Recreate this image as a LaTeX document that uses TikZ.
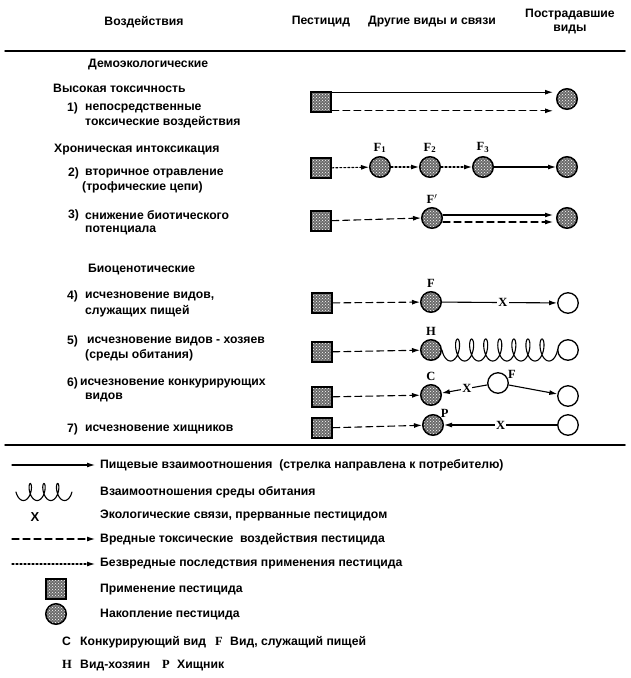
\documentclass[tikz,border=0pt]{standalone}
\usepackage{fontspec}
\setmainfont{Liberation Sans}
\newfontfamily\lblfont{Liberation Serif}
\usetikzlibrary{arrows.meta,patterns,calc}

\tikzset{
    txt/.style={anchor=west, inner sep=0pt, font=\bfseries\fontsize{12.2}{15}\selectfont},
    head/.style={inner sep=0pt, align=center, font=\bfseries\fontsize{12.2}{14}\selectfont},
    lbl/.style={inner sep=0pt, font=\lblfont\bfseries\fontsize{12.5}{12.5}\selectfont},
    pest/.style={draw, line width=1.6pt, minimum size=20pt, inner sep=0pt, preaction={fill=black!58}, pattern=crosshatch dots, pattern color=white},
    nakop/.style={circle, draw, line width=1.5pt, minimum size=20.5pt, inner sep=0pt, preaction={fill=black!58}, pattern=crosshatch dots, pattern color=white},
    vid/.style={circle, draw, line width=1.3pt, minimum size=20.5pt, inner sep=0pt, fill=white},
    food/.style={line width=1.1pt, -{Latex[length=8pt,width=5pt]}},
    toxic/.style={food, dash pattern=on 7pt off 4pt},
    harmless/.style={food, dash pattern=on 2pt off 2pt},
    habitat/.style={line width=1.1pt, smooth, samples=400, variable=\t},
    cut/.style={lbl, fill=white, inner sep=1pt}
}

\begin{document}
\begin{tikzpicture}[x=1pt, y=-1pt, line cap=round]
    \useasboundingbox (0,0) rectangle (630,678);
    % header
    \node[head] (h1) at (144,22) {Воздействия};
    \node[head] (h2) at (321,22) {Пестицид};
    \node[head] (h3) at (432,22) {Другие виды и связи};
    \node[head] (h4) at (570,22) {Пострадавшие\\виды};
    \draw[line width=1.5pt] (5,51) -- (625,51); % top rule

    % left column texts
    \node[txt] (g1) at (88,65) {Демоэкологические};
    \node[txt] (g2) at (53,88) {Высокая токсичность};
    \node[txt] (n1) at (67,108) {1)};
    \node[txt] (d1a) at (85,108) {непосредственные};
    \node[txt] (d1b) at (85,122) {токсические воздействия};
    \node[txt] (g3) at (54,150) {Хроническая интоксикация};
    \node[txt] (n2) at (68,173) {2)};
    \node[txt] (d2a) at (85,173) {вторичное отравление};
    \node[txt] (d2b) at (82,187) {(трофические цепи)};
    \node[txt] (n3) at (68,215) {3)};
    \node[txt] (d3a) at (85,215) {снижение биотического};
    \node[txt] (d3b) at (85,230) {потенциала};
    \node[txt] (g4) at (88,270) {Биоценотические};
    \node[txt] (n4) at (67,296) {4)};
    \node[txt] (d4a) at (85,296) {исчезновение видов,};
    \node[txt] (d4b) at (85,311) {служащих пищей};
    \node[txt] (n5) at (67,341) {5)};
    \node[txt] (d5a) at (87,341) {исчезновение видов - хозяев};
    \node[txt] (d5b) at (85,355) {(среды обитания)};
    \node[txt] (n6) at (67,383) {6)};
    \node[txt] (d6a) at (80,383) {исчезновение конкурирующих};
    \node[txt] (d6b) at (85,397) {видов};
    \node[txt] (n7) at (67,429) {7)};
    \node[txt] (d7a) at (85,429) {исчезновение хищников};

    % row 1: high toxicity
    \node[pest] (p1) at (321,102) {};
    \node[nakop] (a1) at (567,99) {};
    \draw[food] ($(p1.north east)+(0,1)$) -- ($(a1.west |- p1.north east)+(-3,1)$);
    \draw[toxic] ($(p1.south east)+(0,-2)$) -- ($(a1.west |- p1.south east)+(-3,-2)$);

    % row 2: trophic chain
    \node[pest] (p2) at (321,168) {};
    \node[nakop, label={[lbl, label distance=3pt]above:F\textsubscript{1}}] (a21) at (380,167) {};
    \node[nakop, label={[lbl, label distance=3pt]above:F\textsubscript{2}}] (a22) at (430,167) {};
    \node[nakop, label={[lbl, label distance=3pt]above:F\textsubscript{3}}] (a23) at (483,167) {};
    \node[nakop] (a24) at (567,167) {};
    \draw[harmless] (p2) -- (a21);
    \draw[harmless] (a21) -- (a22);
    \draw[harmless] (a22) -- (a23);
    \draw[food] (a23) -- (a24);

    % row 3: biotic potential
    \node[pest] (p3) at (321,221) {};
    \node[nakop, label={[lbl, label distance=3pt]above:F$'$}] (a31) at (432,218) {};
    \node[nakop] (a32) at (567,218) {};
    \draw[toxic] (p3) -- (a31.west);
    \draw[food] ($(a31.east)+(0,-3)$) -- ($(a32.west)+(-3,-3)$);
    \draw[toxic] ($(a31.east)+(0,4)$) -- ($(a32.west)+(-3,4)$);

    % row 4: food species
    \node[pest] (p4) at (322,303) {};
    \node[nakop, label={[lbl, label distance=3pt]above:F}] (a4) at (431,302) {};
    \node[vid] (v4) at (568,303) {};
    \draw[toxic] (p4) -- (a4);
    \draw[food] (a4) -- node[cut, pos=0.53] (x4) {X} (v4);

    % row 5: host species
    \node[pest] (p5) at (322,352) {};
    \node[nakop, label={[lbl, label distance=3pt]above:H}] (a5) at (431,350) {};
    \node[vid] (v5) at (568,350) {};
    \draw[toxic] (p5) -- (a5);
    % coil from a5 to v5: 7 loops over 115pt
    \begin{scope}[shift={(a5.east)}]
        \draw[habitat] plot[domain=-90:2610] ({2.24*(rad(\t)+pi/2)+5*(sin(\t)+1)}, {11*cos(\t)});
    \end{scope}

    % row 6: competitors
    \node[pest] (p6) at (322,397) {};
    \node[nakop, label={[lbl, label distance=3pt]above:C}] (a6) at (431,395) {};
    \node[vid, label={[lbl]25:F}] (m6) at (498,383) {};
    \node[vid] (v6) at (568,396) {};
    \draw[toxic] (p6) -- (a6);
    \draw[food] (m6) -- node[cut, pos=0.45] (x6) {X} (a6);
    \draw[food] (m6) -- (v6);

    % row 7: predators
    \node[pest] (p7) at (322,428) {};
    \node[nakop, label={[lbl]45:P}] (a7) at (433,425) {};
    \node[vid] (v7) at (568,425) {};
    \draw[toxic] (p7) -- (a7);
    \draw[food] (v7) -- node[cut, pos=0.5] (x7) {X} (a7);

    \draw[line width=1.5pt] (5,445) -- (625,445); % bottom rule

    % legend
    \coordinate (l1s) at (12,465);
    \coordinate (l1e) at (95,465);
    \draw[food] (l1s) -- (l1e);
    \node[txt] (e1) at (100,465) {Пищевые взаимоотношения\ \ (стрелка направлена к потребителю)};
    \coordinate (l2s) at (16,492);
    \begin{scope}[shift={(l2s)}]
        \draw[habitat] plot[domain=-90:1170] ({2.18*(rad(\t)+pi/2)+4*(sin(\t)+1)}, {8.5*cos(\t)});
    \end{scope}
    \node[txt] (e2) at (100,492) {Взаимоотношения среды обитания};
    \node[inner sep=0pt, font=\bfseries\fontsize{13}{13}\selectfont] (lx) at (35,517) {X};
    \node[txt] (e3) at (100,515) {Экологические связи, прерванные пестицидом};
    \coordinate (l4s) at (12,539);
    \coordinate (l4e) at (95,539);
    \draw[toxic] (l4s) -- (l4e);
    \node[txt] (e4) at (100,539) {Вредные токсические\ \ воздействия пестицида};
    \coordinate (l5s) at (12,564);
    \coordinate (l5e) at (95,564);
    \draw[harmless] (l5s) -- (l5e);
    \node[txt] (e5) at (100,564) {Безвредные последствия применения пестицида};
    \node[pest] (lp) at (56,589) {};
    \node[txt] (e6) at (100,590) {Применение пестицида};
    \node[nakop] (la) at (56,614) {};
    \node[txt] (e7) at (100,615) {Накопление пестицида};
    % key letters, on a common baseline
    \node[txt, anchor=base west] (kc) at (62,645) {C};
    \node[txt, anchor=base west] (e8) at (80,645) {Конкурирующий вид};
    \node[lbl, anchor=base west] (kf) at (215,645) {F};
    \node[txt, anchor=base west] (e9) at (230,645) {Вид, служащий пищей};
    \node[lbl, anchor=base west] (kh) at (62,668) {H};
    \node[txt, anchor=base west] (e10) at (80,668) {Вид-хозяин};
    \node[lbl, anchor=base west] (kp) at (162,668) {P};
    \node[txt, anchor=base west] (e11) at (177,668) {Хищник};
\end{tikzpicture}
\end{document}
